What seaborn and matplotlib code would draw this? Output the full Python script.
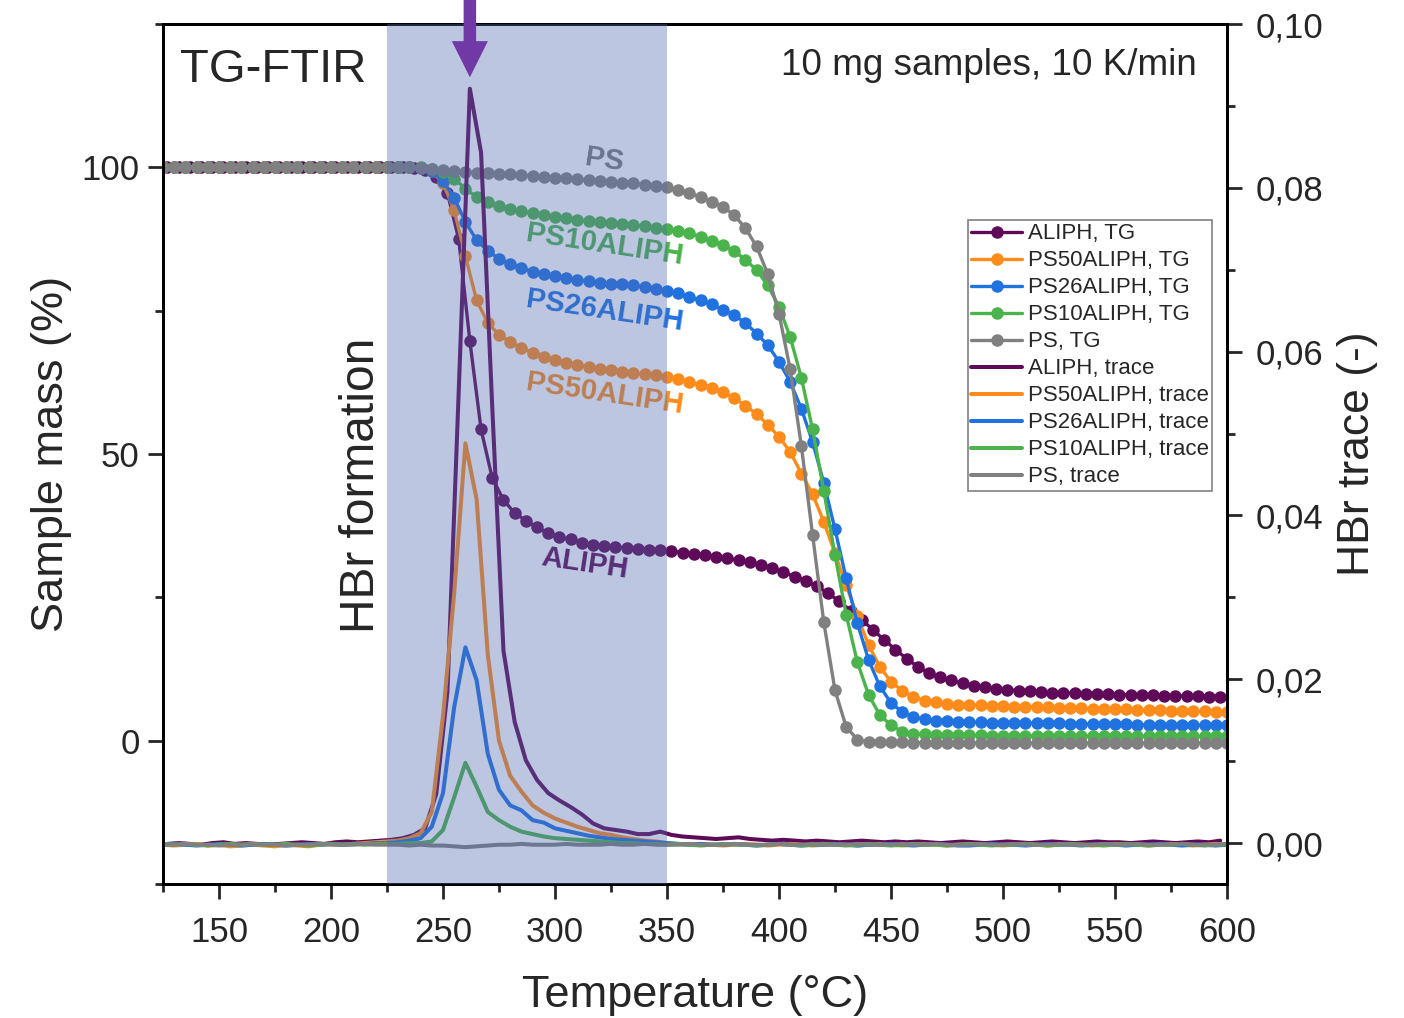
import numpy as np
import seaborn as sns
import matplotlib.pyplot as plt
from matplotlib.ticker import MultipleLocator, FuncFormatter

sns.set_style("ticks")
plt.rcParams['font.family'] = ['Liberation Sans', 'DejaVu Sans']

# temperature grids (5 K steps; the ALIPH run is sampled 2 K later)
temp = np.arange(125, 601, 5)
aliph_temp = np.arange(127, 600, 5)

# sample mass (%)
tg_aliph = [
    100.0, 100.0, 100.0, 100.0, 100.0, 100.0, 100.0, 100.0, 100.0, 100.0,
    100.0, 100.0, 100.0, 100.0, 100.0, 100.0, 100.0, 100.0, 100.0, 100.0,
    100.0, 100.0, 99.9, 99.6, 98.3, 95.5, 87.5, 69.7, 54.3, 45.8,
    42.0, 39.7, 38.4, 37.2, 36.2, 35.5, 35.1, 34.5, 34.1, 33.9,
    33.8, 33.6, 33.4, 33.3, 33.2, 33.0, 32.8, 32.6, 32.4, 32.1,
    31.8, 31.5, 31.1, 30.7, 30.1, 29.4, 28.6, 27.8, 26.9, 25.7,
    24.3, 22.7, 21.1, 19.3, 17.6, 15.9, 14.3, 12.9, 11.8, 11.1,
    10.5, 10.0, 9.6, 9.3, 9.1, 8.9, 8.7, 8.6, 8.5, 8.4,
    8.3, 8.25, 8.2, 8.15, 8.1, 8.05, 8.0, 7.95, 7.9, 7.85,
    7.8, 7.8, 7.75, 7.7, 7.7]
tg_ps50 = [
    100.0, 100.0, 100.0, 100.0, 100.0, 100.0, 100.0, 100.0, 100.0, 100.0,
    100.0, 100.0, 100.0, 100.0, 100.0, 100.0, 100.0, 100.0, 100.0, 100.0,
    100.0, 100.0, 100.0, 99.9, 99.3, 97.3, 92.5, 84.5, 76.8, 72.9,
    70.8, 69.6, 68.5, 67.7, 67.0, 66.4, 65.8, 65.5, 65.1, 64.9,
    64.6, 64.3, 64.2, 63.9, 63.7, 63.4, 63.0, 62.5, 62.1, 61.6,
    60.8, 59.8, 58.4, 57.0, 55.1, 53.0, 50.4, 46.6, 43.0, 38.2,
    32.7, 27.1, 21.7, 16.7, 12.9, 10.3, 8.7, 7.7, 7.0, 6.7,
    6.4, 6.3, 6.2, 6.2, 6.1, 6.0, 5.95, 5.9, 5.85, 5.8,
    5.75, 5.7, 5.65, 5.6, 5.55, 5.5, 5.45, 5.4, 5.35, 5.3,
    5.25, 5.2, 5.15, 5.1, 5.05, 5.0]
tg_ps26 = [
    100.0, 100.0, 100.0, 100.0, 100.0, 100.0, 100.0, 100.0, 100.0, 100.0,
    100.0, 100.0, 100.0, 100.0, 100.0, 100.0, 100.0, 100.0, 100.0, 100.0,
    100.0, 100.0, 100.0, 99.9, 99.4, 97.6, 94.7, 90.5, 87.3, 85.4,
    84.1, 83.2, 82.5, 81.8, 81.4, 81.0, 80.7, 80.4, 80.1, 79.9,
    79.7, 79.6, 79.4, 79.2, 78.8, 78.4, 78.0, 77.4, 76.8, 76.1,
    75.2, 74.2, 72.9, 71.0, 69.0, 66.1, 62.6, 57.9, 52.1, 45.0,
    36.9, 28.3, 20.5, 14.1, 9.5, 6.6, 5.0, 4.2, 3.7, 3.5,
    3.4, 3.3, 3.25, 3.2, 3.15, 3.1, 3.1, 3.05, 3.05, 3.0,
    3.0, 2.95, 2.95, 2.9, 2.9, 2.85, 2.85, 2.8, 2.8, 2.8,
    2.75, 2.75, 2.75, 2.7, 2.7, 2.7]
tg_ps10 = [
    100.0, 100.0, 100.0, 100.0, 100.0, 100.0, 100.0, 100.0, 100.0, 100.0,
    100.0, 100.0, 100.0, 100.0, 100.0, 100.0, 100.0, 100.0, 100.0, 100.0,
    100.0, 100.0, 100.0, 100.0, 99.7, 99.2, 98.0, 96.3, 94.8, 94.0,
    93.2, 92.8, 92.4, 92.0, 91.7, 91.4, 91.1, 90.8, 90.7, 90.5,
    90.3, 90.1, 89.9, 89.7, 89.4, 89.2, 88.9, 88.5, 87.9, 87.2,
    86.4, 85.4, 83.9, 82.1, 79.4, 75.7, 70.4, 63.3, 54.3, 43.6,
    32.4, 22.0, 13.7, 8.0, 4.5, 2.7, 1.6, 1.2, 1.1, 1.0,
    1.0, 1.0, 0.95, 0.95, 0.9, 0.9, 0.9, 0.9, 0.85, 0.85,
    0.85, 0.85, 0.85, 0.8, 0.8, 0.8, 0.8, 0.8, 0.8, 0.8,
    0.8, 0.75, 0.75, 0.75, 0.75, 0.75]
tg_ps = [
    100.0, 100.0, 100.0, 100.0, 100.0, 100.0, 100.0, 100.0, 100.0, 100.0,
    100.0, 100.0, 100.0, 100.0, 100.0, 100.0, 100.0, 100.0, 100.0, 100.0,
    100.0, 100.0, 100.0, 99.9, 99.8, 99.6, 99.4, 99.2, 99.1, 99.0,
    98.9, 98.8, 98.7, 98.5, 98.4, 98.2, 98.1, 97.9, 97.8, 97.6,
    97.5, 97.3, 97.2, 97.0, 96.8, 96.5, 96.0, 95.5, 94.8, 94.0,
    93.1, 91.7, 89.4, 86.2, 81.4, 74.5, 64.8, 51.4, 35.9, 20.7,
    8.8, 2.4, 0.2, -0.2, -0.3, -0.3, -0.3, -0.35, -0.35, -0.35,
    -0.4, -0.4, -0.4, -0.4, -0.4, -0.4, -0.4, -0.4, -0.4, -0.4,
    -0.4, -0.4, -0.4, -0.4, -0.4, -0.4, -0.4, -0.4, -0.4, -0.4,
    -0.4, -0.4, -0.4, -0.4, -0.4, -0.4]

# HBr trace (FTIR)
tr_aliph = [
    -0.0001, 0.0000, -0.0001, -0.0002, 0.0000, 0.0001, -0.0001, 0.0000, -0.0001, -0.0002,
    -0.0001, 0.0000, 0.0001, 0.0000, -0.0001, 0.0001, 0.0002, 0.0001, 0.0002, 0.0003,
    0.0004, 0.0006, 0.0010, 0.0018, 0.0060, 0.0185, 0.0550, 0.0921, 0.0843, 0.0532,
    0.0235, 0.0148, 0.0101, 0.0077, 0.0061, 0.0052, 0.0044, 0.0035, 0.0024, 0.0018,
    0.0016, 0.0014, 0.0011, 0.0011, 0.0014, 0.0010, 0.0008, 0.0007, 0.0006, 0.0005,
    0.0006, 0.0007, 0.0005, 0.0004, 0.0003, 0.0004, 0.0003, 0.0002, 0.0003, 0.0002,
    0.0001, 0.0002, 0.0003, 0.0002, 0.0001, 0.0002, 0.0001, 0.0002, 0.0001, 0.0000,
    0.0001, 0.0002, 0.0001, 0.0000, 0.0001, 0.0002, 0.0001, 0.0000, 0.0001, 0.0002,
    0.0001, 0.0000, 0.0001, 0.0002, 0.0001, 0.0001, 0.0000, 0.0001, 0.0002, 0.0001,
    0.0000, 0.0001, 0.0002, 0.0001, 0.0003]
tr_ps50 = [
    -0.0002, -0.0003, -0.0002, -0.0001, -0.0003, -0.0002, -0.0004, -0.0003, -0.0002, -0.0003,
    -0.0004, -0.0002, -0.0003, -0.0004, -0.0002, -0.0001, -0.0002, -0.0001, 0.0000, 0.0001,
    0.0002, 0.0003, 0.0006, 0.0012, 0.0038, 0.0155, 0.0305, 0.0488, 0.0420, 0.0230,
    0.0125, 0.0082, 0.0063, 0.0046, 0.0037, 0.0030, 0.0025, 0.0020, 0.0016, 0.0012,
    0.0010, 0.0007, 0.0005, 0.0003, 0.0002, 0.0000, -0.0001, -0.0002, -0.0001, -0.0002,
    -0.0003, -0.0002, -0.0001, -0.0002, -0.0003, -0.0002, -0.0001, -0.0002, -0.0003, -0.0002,
    -0.0001, -0.0002, -0.0003, -0.0002, -0.0001, -0.0002, -0.0003, -0.0002, -0.0001, -0.0002,
    -0.0003, -0.0002, -0.0001, -0.0002, -0.0002, -0.0003, -0.0002, -0.0001, -0.0002, -0.0003,
    -0.0002, -0.0001, -0.0002, -0.0003, -0.0002, -0.0001, -0.0002, -0.0002, -0.0003, -0.0002,
    -0.0001, -0.0002, -0.0003, -0.0002, -0.0001, -0.0002]
tr_ps26 = [
    -0.0002, -0.0001, -0.0002, -0.0003, -0.0002, -0.0001, -0.0002, -0.0003, -0.0002, -0.0001,
    -0.0002, -0.0003, -0.0002, -0.0001, -0.0002, -0.0001, -0.0002, -0.0001, -0.0001, 0.0000,
    0.0000, 0.0001, 0.0003, 0.0006, 0.0020, 0.0061, 0.0166, 0.0239, 0.0199, 0.0109,
    0.0065, 0.0046, 0.0040, 0.0028, 0.0025, 0.0018, 0.0015, 0.0012, 0.0009, 0.0007,
    0.0005, 0.0004, 0.0003, 0.0002, 0.0001, 0.0000, -0.0001, -0.0002, -0.0001, -0.0002,
    -0.0002, -0.0001, -0.0002, -0.0003, -0.0002, -0.0001, -0.0002, -0.0003, -0.0002, -0.0002,
    -0.0001, -0.0002, -0.0003, -0.0002, -0.0002, -0.0001, -0.0002, -0.0003, -0.0002, -0.0001,
    -0.0002, -0.0003, -0.0003, -0.0002, -0.0001, -0.0002, -0.0002, -0.0003, -0.0002, -0.0001,
    -0.0002, -0.0002, -0.0003, -0.0002, -0.0001, -0.0002, -0.0003, -0.0002, -0.0002, -0.0001,
    -0.0002, -0.0003, -0.0002, -0.0002, -0.0003, -0.0002]
tr_ps10 = [
    -0.0001, -0.0002, -0.0001, -0.0002, -0.0003, -0.0002, -0.0001, -0.0002, -0.0001, -0.0002,
    -0.0002, -0.0001, -0.0002, -0.0003, -0.0002, -0.0001, -0.0002, -0.0001, -0.0002, -0.0001,
    -0.0001, -0.0001, 0.0000, 0.0000, 0.0002, 0.0016, 0.0056, 0.0098, 0.0069, 0.0038,
    0.0028, 0.0020, 0.0014, 0.0011, 0.0008, 0.0006, 0.0005, 0.0004, 0.0003, 0.0002,
    0.0001, 0.0000, 0.0000, -0.0001, -0.0001, -0.0002, -0.0001, -0.0002, -0.0003, -0.0002,
    -0.0001, -0.0002, -0.0002, -0.0003, -0.0002, -0.0001, -0.0002, -0.0003, -0.0002, -0.0001,
    -0.0002, -0.0003, -0.0002, -0.0001, -0.0002, -0.0003, -0.0002, -0.0001, -0.0002, -0.0002,
    -0.0003, -0.0002, -0.0001, -0.0002, -0.0003, -0.0002, -0.0002, -0.0001, -0.0002, -0.0003,
    -0.0002, -0.0001, -0.0002, -0.0002, -0.0003, -0.0002, -0.0001, -0.0002, -0.0003, -0.0002,
    -0.0002, -0.0001, -0.0002, -0.0003, -0.0002, -0.0002]
tr_ps = [
    -0.0002, -0.0002, -0.0001, -0.0002, -0.0002, -0.0003, -0.0002, -0.0002, -0.0001, -0.0002,
    -0.0002, -0.0003, -0.0002, -0.0002, -0.0001, -0.0002, -0.0002, -0.0002, -0.0001, -0.0002,
    -0.0002, -0.0002, -0.0003, -0.0002, -0.0003, -0.0003, -0.0004, -0.0005, -0.0004, -0.0003,
    -0.0002, -0.0002, -0.0001, -0.0002, -0.0002, -0.0002, -0.0001, -0.0002, -0.0002, -0.0002,
    -0.0001, -0.0002, -0.0002, -0.0001, -0.0002, -0.0002, -0.0002, -0.0001, -0.0002, -0.0002,
    -0.0002, -0.0001, -0.0002, -0.0002, -0.0002, -0.0001, -0.0002, -0.0002, -0.0001, -0.0002,
    -0.0002, -0.0002, -0.0001, -0.0002, -0.0002, -0.0002, -0.0001, -0.0002, -0.0002, -0.0001,
    -0.0002, -0.0002, -0.0002, -0.0001, -0.0002, -0.0002, -0.0001, -0.0002, -0.0002, -0.0002,
    -0.0001, -0.0002, -0.0002, -0.0002, -0.0001, -0.0002, -0.0002, -0.0001, -0.0002, -0.0002,
    -0.0002, -0.0001, -0.0002, -0.0002, -0.0002, -0.0001]

names = ['ALIPH', 'PS50ALIPH', 'PS26ALIPH', 'PS10ALIPH', 'PS']
colors = ['#5e0a58', '#ff8c1a', '#1f72e0', '#4bb34b', '#808080']
label_colors = ['#5e0a58', '#ff8c1a', '#1f72e0', '#4bb34b', '#7a7a7a']
tg_series = [tg_aliph, tg_ps50, tg_ps26, tg_ps10, tg_ps]
tr_series = [tr_aliph, tr_ps50, tr_ps26, tr_ps10, tr_ps]
temps = [aliph_temp, temp, temp, temp, temp]

fig = plt.figure(figsize=(14.04, 10.18), dpi=100)
ax = fig.add_axes([0.1161, 0.1316, 0.7578, 0.8448])
ax2 = ax.twinx()

for t, y, c in zip(temps, tg_series, colors):
    sns.lineplot(x=t, y=y, ax=ax, color=c, marker='o', markersize=9,
                 markeredgewidth=0, linewidth=2.4, sort=False, legend=False,
                 zorder=2)
for t, y, c in zip(temps, tr_series, colors):
    sns.lineplot(x=t, y=y, ax=ax2, color=c, linewidth=2.9, sort=False,
                 legend=False, zorder=2)

# series labels on the TG curves
ax.text(322, 101.3, 'PS', color=label_colors[4], fontsize=21, fontweight='bold',
        rotation=-8.5, rotation_mode='anchor', ha='center', va='center', zorder=3)
ax.text(322, 86.5, 'PS10ALIPH', color=label_colors[3], fontsize=21, fontweight='bold',
        rotation=-8.5, rotation_mode='anchor', ha='center', va='center', zorder=3)
ax.text(322, 74.9, 'PS26ALIPH', color=label_colors[2], fontsize=21, fontweight='bold',
        rotation=-8.5, rotation_mode='anchor', ha='center', va='center', zorder=3)
ax.text(322, 60.5, 'PS50ALIPH', color=label_colors[1], fontsize=21, fontweight='bold',
        rotation=-8.5, rotation_mode='anchor', ha='center', va='center', zorder=3)
ax.text(313.5, 30.9, 'ALIPH', color=label_colors[0], fontsize=21, fontweight='bold',
        rotation=-8.5, rotation_mode='anchor', ha='center', va='center', zorder=3)

# HBr formation window
ax2.axvspan(225, 350, color='#4f69ae', alpha=0.38, lw=0, zorder=5)
ax2.text(213.5, 44.6, 'HBr formation', transform=ax.transData, fontsize=34.5,
         rotation=90, ha='center', va='center', zorder=6)
ax2.annotate('', xy=(262, 0.0935), xytext=(262, 0.1035), xycoords='data',
             arrowprops=dict(facecolor='#7039a6', edgecolor='none', width=9,
                             headwidth=26, headlength=26, shrink=0),
             annotation_clip=False, zorder=10)

ax.text(0.016, 0.9326, 'TG-FTIR', transform=ax.transAxes, fontsize=34,
        ha='left', va='baseline')
ax.text(0.9718, 0.9407, '10 mg samples, 10 K/min', transform=ax.transAxes,
        fontsize=26.6, ha='right', va='baseline')

# axes
ax.set_xlim(125, 600)
ax.set_ylim(-25, 125)
ax2.set_ylim(-0.005, 0.10)
ax.xaxis.set_major_locator(MultipleLocator(50))
ax.xaxis.set_minor_locator(MultipleLocator(25))
ax.yaxis.set_major_locator(MultipleLocator(50))
ax.yaxis.set_minor_locator(MultipleLocator(25))
ax2.yaxis.set_major_locator(MultipleLocator(0.02))
ax2.yaxis.set_minor_locator(MultipleLocator(0.01))
ax2.yaxis.set_major_formatter(FuncFormatter(lambda v, p: f'{v:.2f}'.replace('.', ',')))

for a in (ax, ax2):
    for s in a.spines.values():
        s.set_linewidth(2)
        s.set_color('black')
    a.tick_params(which='major', length=10.8, width=2, direction='out',
                  labelsize=25, pad=6)
    a.tick_params(which='minor', length=5.8, width=2, direction='out')
ax.tick_params(top=False, right=False, which='both')
ax.tick_params(axis='x', which='major', pad=12)
ax2.tick_params(left=False, top=False, bottom=False, which='both')
ax2.tick_params(axis='y', which='major', pad=9.5)

ax.set_xlabel('Temperature (°C)', fontsize=32.5, labelpad=19)
ax.set_ylabel('Sample mass (%)', fontsize=32.5, labelpad=7)
ax2.set_ylabel('HBr trace (-)', fontsize=32, labelpad=10)

# legend
handles = ax.get_lines()[:5] + ax2.get_lines()[:5]
labels = [n + ', TG' for n in names] + [n + ', trace' for n in names]
leg = ax2.legend(handles, labels, loc='upper left', bbox_to_anchor=(0.7566, 0.772),
                 fontsize=16, frameon=True, fancybox=False, edgecolor='#808080',
                 framealpha=1, borderpad=0.15, labelspacing=0.27, handlelength=2.3,
                 handletextpad=0.25, borderaxespad=0, numpoints=1)
leg.get_frame().set_linewidth(1.2)
leg.set_zorder(8)

fig.savefig('out.png', dpi=100)
